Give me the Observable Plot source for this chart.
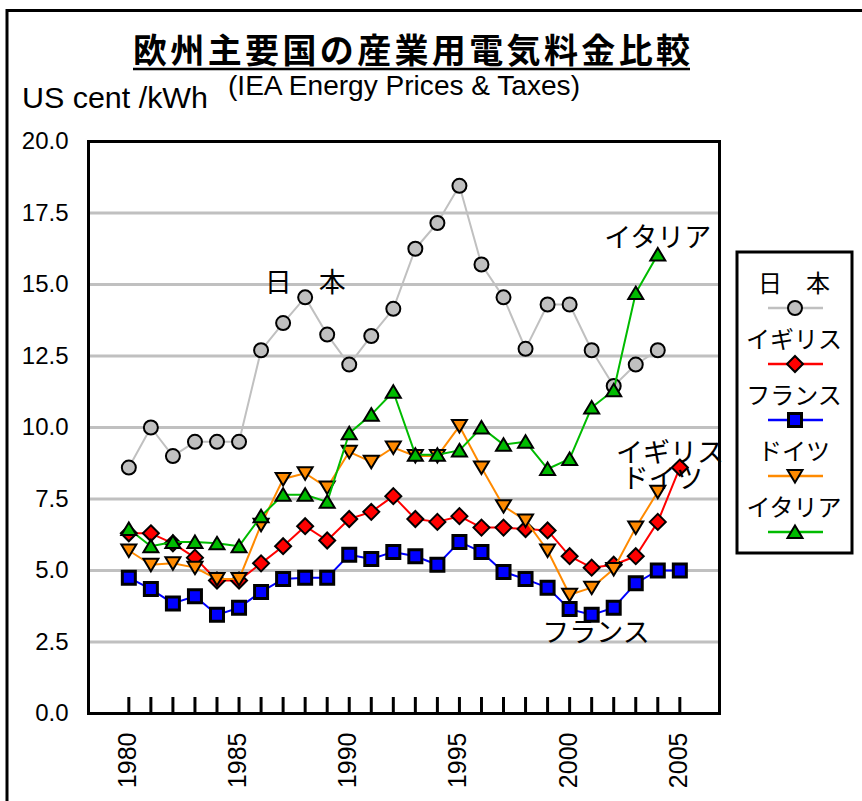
<!DOCTYPE html>
<html><head><meta charset="utf-8">
<script src="https://cdn.jsdelivr.net/npm/d3@7"></script>
<script src="https://cdn.jsdelivr.net/npm/@observablehq/plot@0.6"></script>
<style>
body{margin:0;background:#fff;}
#wrap{position:relative;width:862px;height:801px;overflow:hidden;background:#fff;}
#wrap svg{position:absolute;left:0;top:0;}
</style></head><body><div id="wrap"></div>
<script>
// ---- data ----
const years = [1980,1981,1982,1983,1984,1985,1986,1987,1988,1989,1990,1991,1992,1993,1994,1995,1996,1997,1998,1999,2000,2001,2002,2003,2004,2005];
const labelYears = [1980,1985,1990,1995,2000,2005];
const yTicks = [0,2.5,5,7.5,10,12.5,15,17.5,20];
const gridValues = [2.5,5,7.5,10,12.5,15,17.5];
const seriesNames = ["日　本","イギリス","フランス","ドイツ","イタリア"];
const japan   = [8.6,10.0,9.0,9.5,9.5,9.5,12.7,13.65,14.55,13.25,12.2,13.2,14.15,16.25,17.15,18.45,15.7,14.55,12.75,14.3,14.3,12.7,11.45,12.2,12.7,null];
const uk      = [6.3,6.3,5.95,5.45,4.65,4.65,5.25,5.85,6.55,6.05,6.8,7.05,7.6,6.8,6.7,6.9,6.5,6.5,6.45,6.4,5.5,5.1,5.2,5.5,6.7,8.6];
const france  = [4.75,4.35,3.85,4.1,3.45,3.7,4.25,4.7,4.75,4.75,5.55,5.4,5.65,5.5,5.2,6.0,5.65,4.95,4.7,4.4,3.65,3.45,3.7,4.55,5.0,5.0];
const germany = [5.7,5.2,5.25,5.1,4.7,4.7,6.6,8.2,8.4,7.9,9.15,8.8,9.3,9.0,9.0,10.05,8.6,7.25,6.75,5.7,4.15,4.4,5.05,6.5,7.75,null];
const italy   = [6.45,5.85,6.0,6.0,5.95,5.85,6.9,7.65,7.65,7.4,9.8,10.45,11.25,9.05,9.05,9.2,10.0,9.4,9.5,8.55,8.9,10.7,11.3,14.7,16.05,null];
const annotations = [
  {label:"日　本", year:1988.0, value:15.05},
  {label:"イタリア", year:2004.0, value:16.6},
  {label:"イギリス", year:2004.55, value:9.1},
  {label:"ドイツ", year:2004.2, value:8.2},
  {label:"フランス", year:2001.2, value:2.8}
];

// ---- symbols ----
const symCircle = {draw(c){c.moveTo(7,0); c.arc(0,0,7,0,2*Math.PI); c.closePath();}};
const symDiamond = {draw(c){c.moveTo(0,-8); c.lineTo(8,0); c.lineTo(0,8); c.lineTo(-8,0); c.closePath();}};
const symSquare = {draw(c){c.moveTo(-6.5,-6.5); c.lineTo(6.5,-6.5); c.lineTo(6.5,6.5); c.lineTo(-6.5,6.5); c.closePath();}};
const symTriUp = {draw(c){c.moveTo(0,-6.5); c.lineTo(7.5,6); c.lineTo(-7.5,6); c.closePath();}};
const symTriDown = {draw(c){c.moveTo(0,6.5); c.lineTo(7.5,-6); c.lineTo(-7.5,-6); c.closePath();}};

const series = [
  {name: seriesNames[0], values: japan,   line:"#c0c0c0", fill:"#c0c0c0", symbol: symCircle,  msw: 2},
  {name: seriesNames[1], values: uk,      line:"#ff0000", fill:"#ff0000", symbol: symDiamond, msw: 2},
  {name: seriesNames[2], values: france,  line:"#0000ff", fill:"#0000ff", symbol: symSquare,  msw: 3},
  {name: seriesNames[3], values: germany, line:"#ff8a00", fill:"#ff8a00", symbol: symTriDown, msw: 2},
  {name: seriesNames[4], values: italy,   line:"#00bb00", fill:"#00bb00", symbol: symTriUp,   msw: 2}
];

const rowsOf = s => years.map((y,i)=>({year:y, value:s.values[i]})).filter(d=>d.value!=null);

const marks = [
  Plot.ruleY(gridValues, {stroke:"#c0c0c0", strokeWidth:3}),
  Plot.ruleX(years, {y1:0, y2:0.56, stroke:"black", strokeWidth:3}),
  Plot.axisY({ticks: yTicks, tickFormat: d3.format(".1f"), tickSize: 0, tickPadding: 20, fontSize: 24, label: null}),
  Plot.text(labelYears, {x: d=>d, frameAnchor:"bottom", rotate:-90, textAnchor:"end", dx:7, dy:19, fontSize:25, text: d=>String(d), fill:"black"})
];
for (const s of series) {
  const rows = rowsOf(s);
  marks.push(Plot.line(rows, {x:"year", y:"value", stroke:s.line, strokeWidth:2}));
  marks.push(Plot.dot(rows, {x:"year", y:"value", symbol:s.symbol, r:8, fill:s.fill, stroke:"black", strokeWidth:s.msw}));
}
marks.push(Plot.text(annotations, {x:"year", y:"value", text:"label", fontSize:27, fontFamily:"Noto Sans CJK JP", fill:"black"}));
marks.push(Plot.frame({stroke:"black", strokeWidth:3}));

const chart = Plot.plot({
  width: 862, height: 801,
  marginLeft: 88, marginRight: 143, marginTop: 141, marginBottom: 88,
  style: {fontFamily: "Liberation Sans, Arial, sans-serif", background: "transparent", color: "black"},
  x: {type:"linear", domain:[1978.17, 2006.8], axis: null},
  y: {domain:[0,20], axis: null},
  marks
});
const wrap = document.getElementById("wrap");
wrap.appendChild(chart);

// ---- overlay: title, unit, subtitle, border, legend ----
const ov = d3.select(wrap).append("svg").attr("width",862).attr("height",801)
  .style("pointer-events","none");
ov.append("path").attr("d","M7,801V10.5H862").attr("fill","none").attr("stroke","black").attr("stroke-width",3);
ov.append("text").attr("x",133).attr("y",63).attr("textLength",557).attr("lengthAdjust","spacing")
  .attr("font-family","Noto Sans CJK JP").attr("font-weight","bold").attr("font-size",34)
  .text("欧州主要国の産業用電気料金比較");
ov.append("line").attr("x1",133).attr("x2",690).attr("y1",69).attr("y2",69).attr("stroke","black").attr("stroke-width",2.5);
ov.append("text").attr("x",22).attr("y",108).attr("textLength",186).attr("lengthAdjust","spacingAndGlyphs")
  .attr("font-family","Liberation Sans, Arial, sans-serif").attr("font-size",30).text("US cent /kWh");
ov.append("text").attr("x",228).attr("y",95).attr("textLength",352).attr("lengthAdjust","spacingAndGlyphs")
  .attr("font-family","Liberation Sans, Arial, sans-serif").attr("font-size",27).text("(IEA Energy Prices & Taxes)");

// legend
const lg = ov.append("g");
lg.append("rect").attr("x",737).attr("y",252).attr("width",115).attr("height",301)
  .attr("fill","white").attr("stroke","black").attr("stroke-width",3);
series.forEach((s,i)=>{
  const ty = 281 + i*56, ly = 308 + i*56;
  lg.append("text").attr("x",794).attr("y",ty).attr("text-anchor","middle").attr("dominant-baseline","central")
    .attr("font-family","Noto Sans CJK JP").attr("font-size",24).text(s.name);
  lg.append("line").attr("x1",768).attr("x2",823).attr("y1",ly).attr("y2",ly).attr("stroke",s.line).attr("stroke-width",2.5);
  lg.append("path").attr("transform",`translate(795,${ly})`).attr("d", d3.symbol().type(s.symbol)())
    .attr("fill",s.fill).attr("stroke","black").attr("stroke-width",s.msw);
});
</script></body></html>
